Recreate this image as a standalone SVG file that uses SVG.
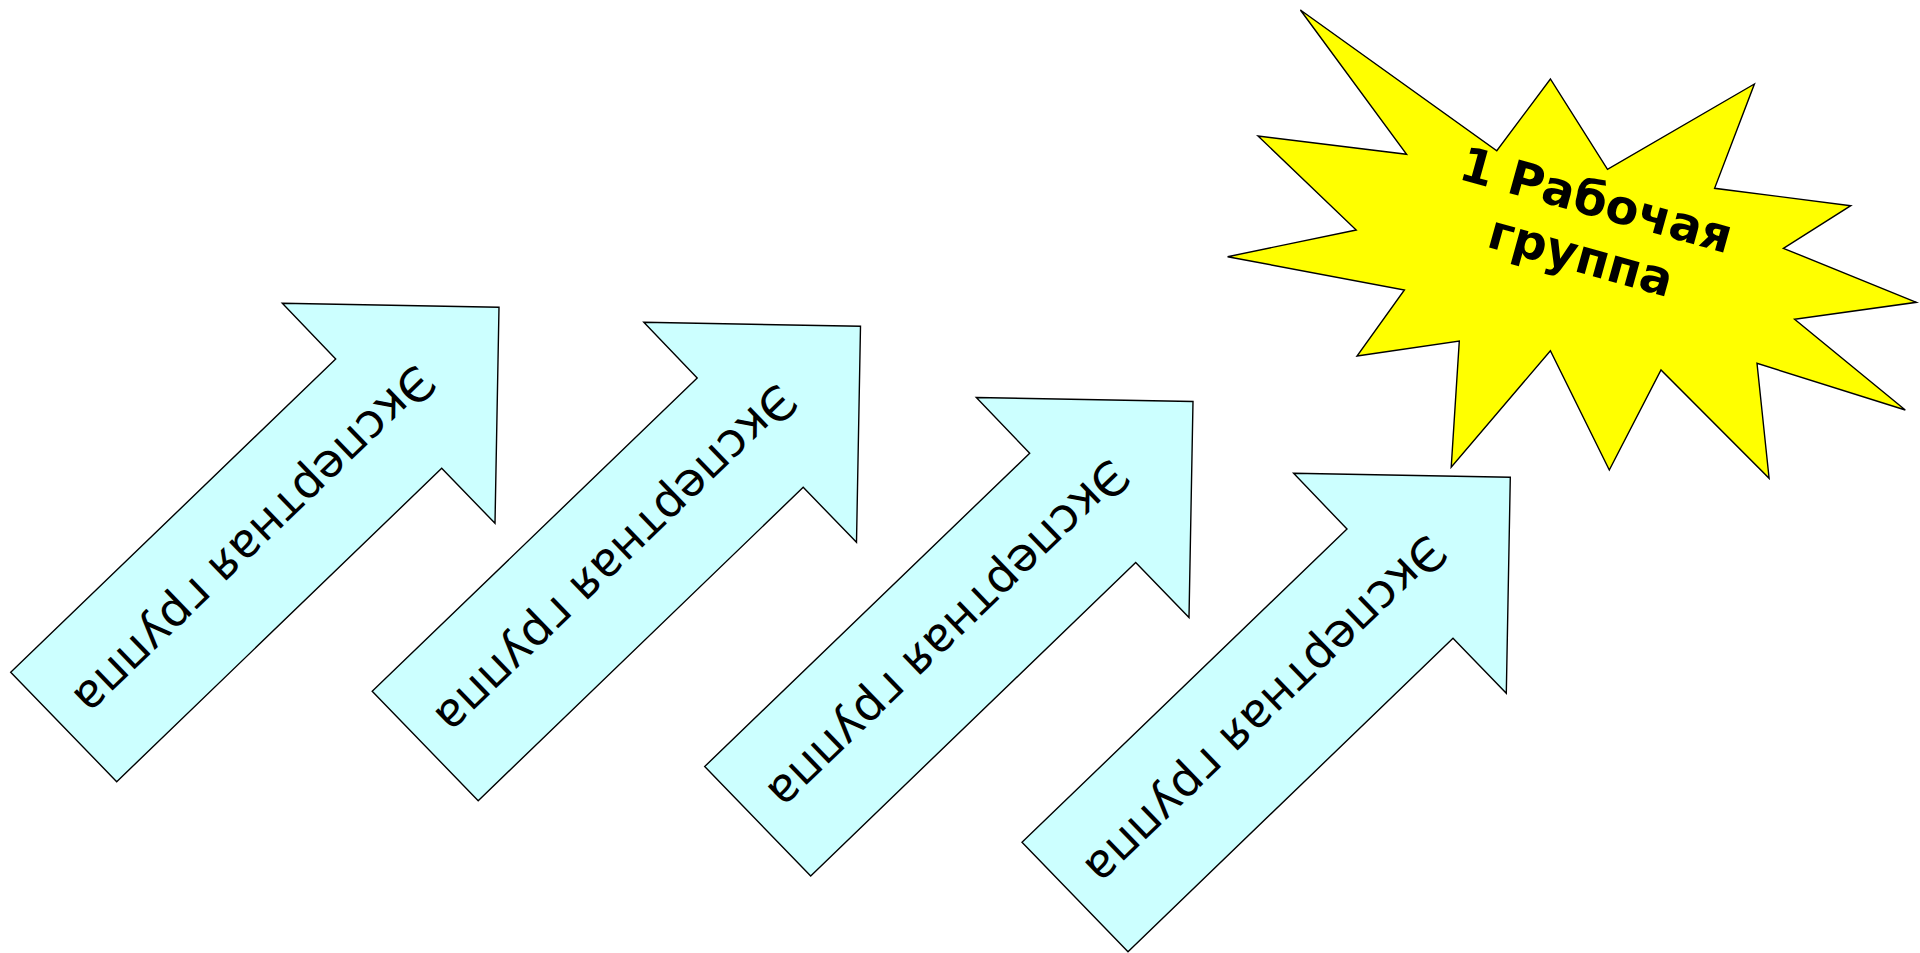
<svg xmlns="http://www.w3.org/2000/svg" xmlns:xlink="http://www.w3.org/1999/xlink" width="1920" height="953" viewBox="0 0 1920 953">
<defs>
<style>
.arrow{fill:#ccffff;stroke:#000;stroke-width:1.4;stroke-linejoin:miter}
.atext{font-family:"DejaVu Sans","Noto Sans",sans-serif;font-size:47px;fill:#000;text-anchor:middle}
.star{fill:#ffff00;stroke:#000;stroke-width:1.4}
.stext{font-family:"DejaVu Sans","Noto Sans",sans-serif;font-size:48px;font-weight:bold;fill:#000;text-anchor:middle}
</style>
<polygon id="arr" points="282.3,303.3 499,307.3 495,523.3 441.7,468.3 116.7,781.7 10.7,672.3 335.7,359"/>
</defs>
<rect width="1920" height="953" fill="#fff"/>
<g id="connectors"/>
<g id="arrow1">
<use xlink:href="#arr" href="#arr" class="arrow"/>
<text class="atext" transform="translate(255,541) rotate(136)" y="17">Экспертная группа</text>
</g>
<g id="arrow2" transform="translate(361.5,19)">
<use xlink:href="#arr" href="#arr" class="arrow"/>
<text class="atext" transform="translate(255,541) rotate(136)" y="17">Экспертная группа</text>
</g>
<g id="arrow3" transform="translate(694,94.2)">
<use xlink:href="#arr" href="#arr" class="arrow"/>
<text class="atext" transform="translate(255,541) rotate(136)" y="17">Экспертная группа</text>
</g>
<g id="arrow4" transform="translate(1011.3,170)">
<use xlink:href="#arr" href="#arr" class="arrow"/>
<text class="atext" transform="translate(255,541) rotate(136)" y="17">Экспертная группа</text>
</g>
<g id="star">
<polygon class="star" points="1300.4,10 1496.8,150.7 1550.4,79 1607.5,169.3 1754.4,84 1714.6,188.3 1850.8,205.7 1783.4,248.3 1916.4,302.3 1794.6,319.3 1905.3,410 1757,363.3 1769.1,478.3 1661,370 1609.3,470 1550.4,350.7 1451.2,467.3 1459.3,341 1357,356 1404.4,290 1227.6,256.7 1356.2,230 1258,136 1406.6,154.3"/>
<g transform="translate(1592,216) rotate(15.5)">
<text class="stext" x="0" y="0">1 Рабочая</text>
<text class="stext" x="0" y="58">группа</text>
</g>
</g>
</svg>
